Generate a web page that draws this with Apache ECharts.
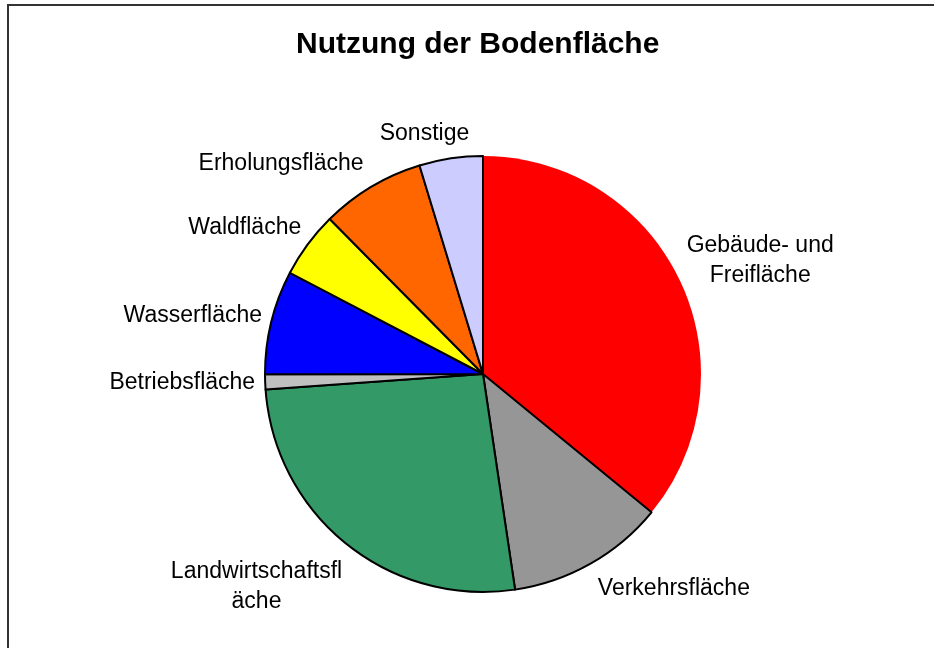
<!DOCTYPE html>
<html>
<head><meta charset="utf-8">
<script src="https://cdn.jsdelivr.net/npm/echarts@6/dist/echarts.min.js"></script>
</head>
<body style="margin:0;background:#fff;">
<div id="main" style="width:934px;height:648px;"></div>
<script>
// Anteile in Prozent, im Uhrzeigersinn ab 12 Uhr
var names = ['Gebäude- und Freifläche', 'Verkehrsfläche', 'Landwirtschaftsfläche', 'Betriebsfläche',
             'Wasserfläche', 'Waldfläche', 'Erholungsfläche', 'Sonstige'];
var labels = ['Gebäude- und\nFreifläche', 'Verkehrsfläche', 'Landwirtschaftsfl\näche', 'Betriebsfläche',
              'Wasserfläche', 'Waldfläche', 'Erholungsfläche', 'Sonstige'];
var values = [35.9, 11.7, 26.2, 1.1, 7.7, 4.9, 7.7, 4.7];
var colors = ['#FF0000', '#969696', '#339966', '#C0C0C0', '#0000FF', '#FFFF00', '#FF6600', '#CCCCFF'];

// kleine Korrekturen der Beschriftungsabstaende (wie Excel)
var len1 = [46, 29, 55, 27, 27, 28, 27, 25];
var len2 = [-40, -12, -35, -22, -22, -21, -11, -27];

var data = [];
for (var i = 0; i < values.length; i++) {
    data.push({
        name: names[i],
        value: values[i],
        itemStyle: {color: colors[i], borderWidth: i == 0 ? 0 : 2},
        label: {formatter: labels[i].split('\n').map(function (s) { return '{c|' + s + '}'; }).join('\n')},
        labelLine: {length: len1[i], length2: len2[i]}
    });
}

var myChart = echarts.init(document.getElementById('main'));
myChart.setOption({
    animation: false,
    title: {
        text: 'Nutzung der Bodenfläche',
        left: 291,
        top: 25,
        textStyle: {fontFamily: 'Liberation Sans, Arial', fontSize: 30, fontWeight: 'bold', color: '#000'}
    },
    graphic: [{
        type: 'rect',
        shape: {x: 8, y: 5, width: 1200, height: 1200},
        style: {fill: 'none', stroke: '#333', lineWidth: 2},
        silent: true
    }],
    series: [{
        type: 'pie',
        center: [483, 374],
        radius: 218,
        startAngle: 90,
        clockwise: true,
        avoidLabelOverlap: false,
        itemStyle: {borderColor: '#000', borderWidth: 2},
        label: {
            show: true,
            position: 'outside',
            rich: {
                c: {fontFamily: 'Liberation Sans, Arial', fontSize: 23, color: '#000', align: 'center', lineHeight: 30}
            }
        },
        labelLine: {show: false},
        emphasis: {disabled: true},
        data: data
    }]
});
</script>
</body>
</html>
